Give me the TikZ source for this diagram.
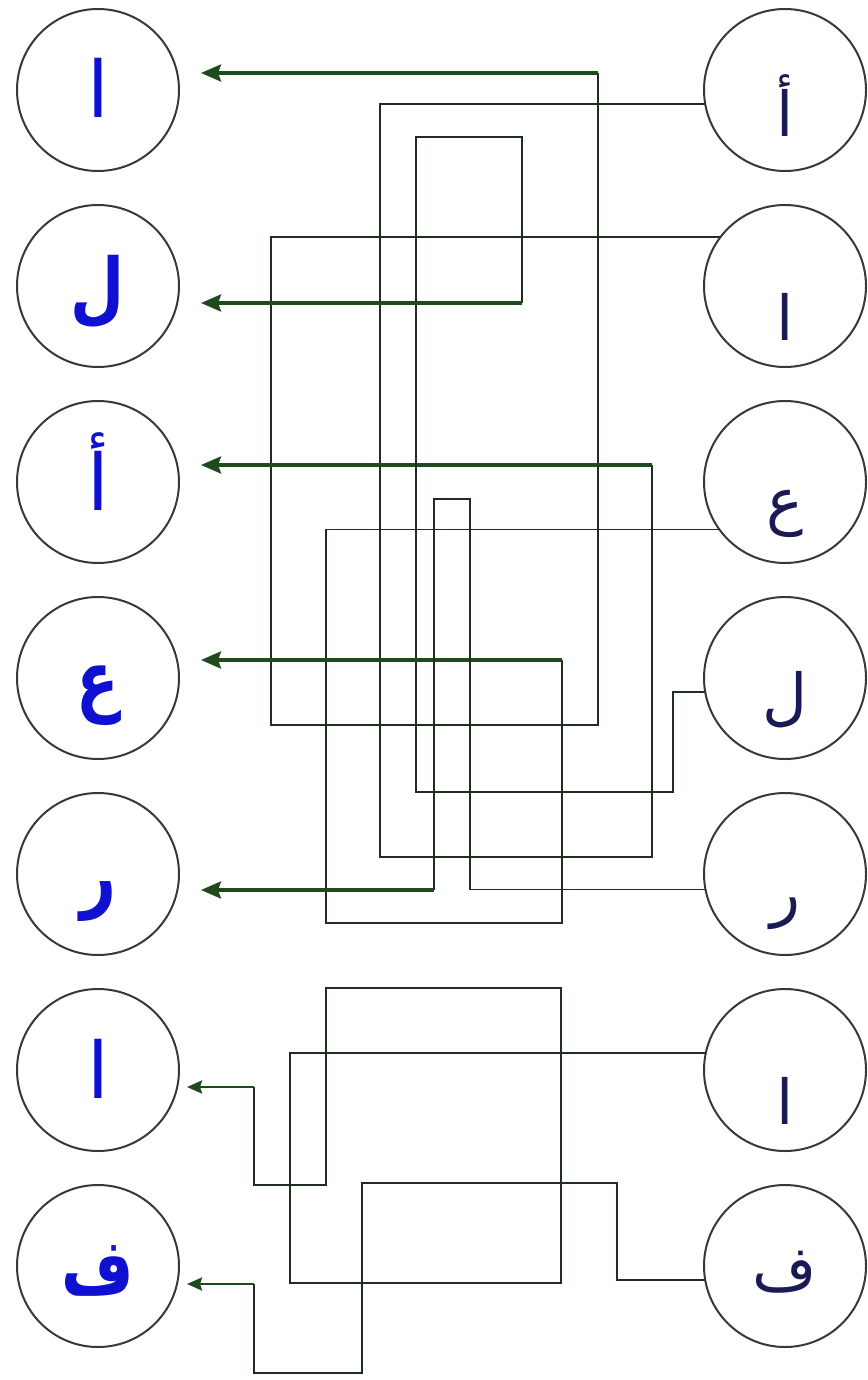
\documentclass[tikz,border=0pt]{standalone}
\usepackage{fontspec}
\usepackage{graphicx}
\usepackage{xcolor}
\usetikzlibrary{positioning,arrows.meta}
\TeXXeTstate=1
\newfontfamily\arabicfont[Script=Arabic]{DejaVu Sans}
\definecolor{wiregreen}{HTML}{1F2F1F}
\definecolor{arrowgreen}{HTML}{1E4A1E}
\definecolor{letterblue}{HTML}{1010D0}
\definecolor{letternavy}{HTML}{1A1A55}
\newcommand{\arl}[1]{\beginR#1\endR}
\newcommand{\arlb}[1]{\scalebox{0.8}[1]{\bfseries\beginR#1\endR}}

\begin{document}
\begin{tikzpicture}[
  x=1pt, y=-1pt,
  node distance=34pt,
  circ/.style={
    circle, draw=black!78, line width=2pt, minimum size=162pt,
    inner sep=0pt, outer sep=0pt
  },
  leftcirc/.style={circ, text=letterblue, text height=56pt, text depth=0pt,
    font=\arabicfont\fontsize{78}{82}\selectfont},
  rightcirc/.style={circ, text=letternavy, text height=80pt, text depth=0pt,
    font=\arabicfont\fontsize{62}{66}\selectfont},
  wire/.style={draw=wiregreen, line width=1.6pt},
  arr/.style={draw=arrowgreen, line width=3.4pt, shorten >=22pt,
    -{Stealth[length=20pt,width=17pt,inset=3pt]}},
  arrsmall/.style={arr, line width=2.6pt, shorten >=8pt,
    -{Stealth[length=15pt,width=13pt,inset=2pt]}}
]
\useasboundingbox[fill=white] (0,0) rectangle (867,1380);

\node[leftcirc] (left1) at (98,90) {\arl{ا}};
\node[leftcirc, below=of left1] (left2) {\arlb{ل}};
\node[leftcirc, below=of left2] (left3) {\arl{أ}};
\node[leftcirc, below=of left3] (left4) {\arlb{ع}};
\node[leftcirc, below=of left4] (left5) {\arlb{ر}};
\node[leftcirc, below=of left5] (left6) {\arl{ا}};
\node[leftcirc, below=of left6] (left7) {\arlb{ف}};

\node[rightcirc] (right1) at (785,90) {\raisebox{-7pt}{\arl{أ}}};
\node[rightcirc, below=of right1] (right2) {\raisebox{-14pt}{\arl{ا}}};
\node[rightcirc, below=of right2] (right3) {\arl{ع}};
\node[rightcirc, below=of right3] (right4) {\arl{ل}};
\node[rightcirc, below=of right4] (right5) {\arl{ر}};
\node[rightcirc, below=of right5] (right6) {\raisebox{-14pt}{\arl{ا}}};
\node[rightcirc, below=of right6] (right7) {\raisebox{16pt}{\arl{ف}}};

\draw[wire] (right2.143) -| (271,725) -| (598,73) edge[arr] (left1.east |- 0,73);
\draw[wire] (right1.190) -| (380,857) -| (652,465) edge[arr] (left3.east |- 0,465);
\draw[wire] (right4.190) -| (673,792) -| (416,137) -| (522,303) edge[arr] (left2.east |- 0,303);
\draw[wire] (right3.216) -| (326,923) -| (562,660) edge[arr] (left4.east |- 0,660);
\draw[wire] (right5.191) -| (470,499) -| (434,890) edge[arr] (left5.east |- 0,890);
\draw[wire] (right6.168) -| (290,1283) -| (561,988) -| (326,1185) -| (254,1087)
  edge[arrsmall] (left6.east |- 0,1087);
\draw[wire] (right7.190) -| (617,1183) -| (362,1373) -| (254,1284)
  edge[arrsmall] (left7.east |- 0,1284);
\end{tikzpicture}
\end{document}
